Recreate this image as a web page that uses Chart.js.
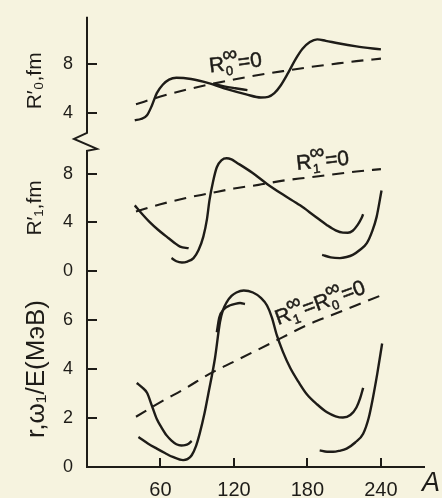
<!DOCTYPE html>
<html><head><meta charset="utf-8">
<script src="https://cdn.jsdelivr.net/npm/chart.js@4/dist/chart.umd.min.js"></script>
<style>html,body{margin:0;padding:0;background:#f6f3df;}canvas{display:block;}</style>
</head><body>
<canvas id="c" width="442" height="498"></canvas>
<script>
// ---------- data ----------
const X_TICKS = [60, 120, 180, 240];
const TOP_TICKS = [4, 8];
const MID_TICKS = [0, 4, 8];
const BOT_TICKS = [0, 2, 4, 6];

// top panel R'0
const TOP_A  = [39, 44, 49, 53, 57, 62, 67, 73, 85, 100, 115, 130, 142, 148, 153, 158, 164, 170, 176, 182, 188, 195, 205, 220, 240];
const TOP_R0 = [3.4, 3.5, 3.8, 4.6, 5.6, 6.3, 6.7, 6.85, 6.75, 6.4, 5.9, 5.5, 5.25, 5.3, 5.6, 6.2, 7.2, 8.3, 9.2, 9.75, 9.97, 9.85, 9.65, 9.4, 9.15];
const TOP2_A  = [103, 112, 121, 131];
const TOP2_R0 = [6.35, 6.15, 6.0, 5.85];
const DASH_A = [40, 60, 80, 100, 120, 140, 160, 180, 200, 220, 240];
const TOP_DASH = [4.7, 5.32, 5.85, 6.31, 6.71, 7.07, 7.39, 7.69, 7.95, 8.2, 8.4];

// middle panel R'1
const MID1_A = [39, 45, 51, 58, 65, 71, 76, 83];
const MID1_R = [5.41, 4.7, 4.05, 3.4, 2.83, 2.35, 2.0, 1.88];
const MID2_A = [69, 73, 77.5, 82, 87, 91, 95, 98, 100, 103, 106, 110, 114, 118, 122, 135, 147, 160, 174, 185, 196, 203, 209, 213, 217, 221, 224, 225.5];
const MID2_R = [1.06, 0.8, 0.7, 0.78, 1.06, 1.7, 2.83, 4.3, 5.82, 7.4, 8.55, 9.15, 9.3, 9.2, 8.95, 8.1, 7.18, 6.3, 5.41, 4.6, 3.78, 3.35, 3.16, 3.15, 3.32, 3.8, 4.33, 4.68];
const MID3_A = [192, 199, 206.5, 212, 217, 223, 228.5, 233, 236.5, 240.5];
const MID3_R = [1.33, 1.12, 1.06, 1.15, 1.33, 1.75, 2.29, 3.3, 4.46, 6.64];
const MID_DASH = [4.9, 5.5, 6.0, 6.4, 6.8, 7.1, 7.45, 7.7, 7.95, 8.2, 8.4];

// bottom panel r,w1/E
const BOTA_A = [40.6, 45, 49, 53, 57, 61, 65, 69, 73, 77, 80, 83, 85.5];
const BOTA_V = [3.43, 3.25, 3.03, 2.5, 1.96, 1.6, 1.29, 1.08, 0.93, 0.88, 0.89, 0.95, 1.06];
const BOTB_A = [42, 50, 57, 64, 70, 78.5, 82, 85.5, 89, 92, 96, 99, 104.5, 108.6, 111, 114, 118, 122, 128, 135.5, 142, 147, 151, 155, 160, 166, 173, 179.5, 188, 196, 203, 209, 215, 220, 223, 225.5];
const BOTB_V = [1.22, 0.95, 0.75, 0.56, 0.41, 0.28, 0.32, 0.48, 0.85, 1.36, 2.2, 2.97, 4.44, 5.92, 6.4, 6.72, 6.98, 7.12, 7.2, 7.12, 6.9, 6.59, 6.1, 5.38, 4.7, 4.04, 3.45, 2.97, 2.55, 2.23, 2.07, 2.02, 2.12, 2.43, 2.8, 3.23];
const BOTC_A = [106, 108, 112, 117, 121, 125, 129];
const BOTC_V = [5.5, 6.1, 6.45, 6.6, 6.66, 6.69, 6.65];
const BOTD_A = [190, 196, 201, 206, 212, 219, 225.5, 230, 233.5, 237, 241];
const BOTD_V = [0.68, 0.62, 0.62, 0.66, 0.75, 1.0, 1.36, 2.0, 2.83, 3.8, 5.04];
const BOT_DASH = [2.05, 2.65, 3.2, 3.8, 4.3, 4.8, 5.3, 5.8, 6.2, 6.6, 7.0];

// ---------- style ----------
const INK = '#1e1c18';
const BG = '#f6f3df';
const FAM = "'Liberation Sans', Arial, sans-serif";

const pts = (xs, ys) => xs.map((x, i) => ({x, y: ys[i]}));
function solid(xs, ys, axis) {
  return {data: pts(xs, ys), yAxisID: axis, borderColor: INK, borderWidth: 2.4, pointRadius: 0,
          tension: 0.4, cubicInterpolationMode: 'monotone', fill: false};
}
function dashed(xs, ys, axis) {
  return {data: pts(xs, ys), yAxisID: axis, borderColor: INK, borderWidth: 2.1, pointRadius: 0,
          borderDash: [12, 8], tension: 0.4, cubicInterpolationMode: 'monotone', fill: false};
}
const setTicks = arr => s => { s.ticks = arr.map(v => ({value: v})); };

function yScale(weight, min, max, ticks, title, tsize, tpad) {
  return {
    type: 'linear', position: 'left', stack: 'y', stackWeight: weight, min, max,
    afterBuildTicks: setTicks(ticks),
    grid: {display: false}, border: {display: false},
    ticks: {autoSkip: false, padding: 6, color: INK, font: {family: FAM, size: 18}},
    title: {display: true, text: title, color: INK, font: {family: FAM, size: tsize}, padding: {top: tpad, bottom: 0}},
    afterFit: s => { s.width = 87; }
  };
}

function drawLabel(ctx, x, y, angle, parts) {
  ctx.save();
  ctx.translate(x, y);
  ctx.rotate(angle);
  ctx.fillStyle = INK;
  ctx.strokeStyle = INK;
  ctx.lineWidth = 0.5;
  ctx.textBaseline = 'alphabetic';
  ctx.textAlign = 'left';
  const put = (t, px, py) => { ctx.fillText(t, px, py); ctx.strokeText(t, px, py); };
  let cx = 0;
  for (const p of parts) {
    if (p.t) {
      ctx.font = `21px ${FAM}`;
      put(p.t, cx, 0);
      cx += ctx.measureText(p.t).width + 1;
    } else {
      ctx.font = `13px ${FAM}`;
      put(p.sub, cx, 5);
      const w1 = ctx.measureText(p.sub).width;
      ctx.font = `21px ${FAM}`;
      put('∞', cx - 2, -9);
      const w2 = ctx.measureText('∞').width;
      cx += Math.max(w1, w2) - 2;
    }
  }
  ctx.restore();
}

const decor = {
  id: 'decor',
  beforeDraw(chart) {
    const ctx = chart.ctx;
    ctx.save(); ctx.fillStyle = BG; ctx.fillRect(0, 0, chart.width, chart.height); ctx.restore();
  },
  afterDraw(chart) {
    const ctx = chart.ctx;
    const {left, right, top, bottom} = chart.chartArea;
    const sx = chart.scales.x, yt = chart.scales.yTop, ym = chart.scales.yMid, yb = chart.scales.yBot;
    ctx.save();
    ctx.strokeStyle = INK; ctx.lineWidth = 2; ctx.lineJoin = 'miter';
    const brk = yt.bottom;
    ctx.beginPath();
    ctx.moveTo(left, top);
    ctx.lineTo(left, brk - 12);
    ctx.lineTo(left - 13, brk - 6);
    ctx.lineTo(left + 10, brk + 4);
    ctx.lineTo(left, brk + 6);
    ctx.lineTo(left, bottom);
    ctx.lineTo(right, bottom);
    ctx.stroke();
    ctx.beginPath();
    for (const [sc, arr] of [[yt, TOP_TICKS], [ym, MID_TICKS], [yb, BOT_TICKS]]) {
      for (const v of arr) {
        const py = Math.round(sc.getPixelForValue(v));
        ctx.moveTo(left, py); ctx.lineTo(left + 10, py);
      }
    }
    for (const v of X_TICKS) {
      const px = Math.round(sx.getPixelForValue(v));
      ctx.moveTo(px, bottom); ctx.lineTo(px, bottom - 9);
    }
    ctx.stroke();
    ctx.fillStyle = INK;
    ctx.font = `italic 27px ${FAM}`;
    ctx.textBaseline = 'middle'; ctx.textAlign = 'left';
    ctx.fillText('A', right - 3, bottom + 16);
    ctx.restore();

    drawLabel(ctx, sx.getPixelForValue(100.4), yt.getPixelForValue(7.28), -7 * Math.PI / 180,
      [{t: 'R'}, {sub: '0'}, {t: '=0'}]);
    drawLabel(ctx, sx.getPixelForValue(171.4), ym.getPixelForValue(8.33), -6 * Math.PI / 180,
      [{t: 'R'}, {sub: '1'}, {t: '=0'}]);
    drawLabel(ctx, sx.getPixelForValue(156), yb.getPixelForValue(5.79), -20 * Math.PI / 180,
      [{t: 'R'}, {sub: '1'}, {t: '=R'}, {sub: '0'}, {t: '=0'}]);
  }
};

new Chart(document.getElementById('c'), {
  type: 'line',
  data: {datasets: [
    solid(TOP_A, TOP_R0, 'yTop'),
    solid(TOP2_A, TOP2_R0, 'yTop'),
    dashed(DASH_A, TOP_DASH, 'yTop'),
    solid(MID1_A, MID1_R, 'yMid'),
    solid(MID2_A, MID2_R, 'yMid'),
    solid(MID3_A, MID3_R, 'yMid'),
    dashed(DASH_A, MID_DASH, 'yMid'),
    solid(BOTA_A, BOTA_V, 'yBot'),
    solid(BOTB_A, BOTB_V, 'yBot'),
    solid(BOTC_A, BOTC_V, 'yBot'),
    solid(BOTD_A, BOTD_V, 'yBot'),
    dashed(DASH_A, BOT_DASH, 'yBot')
  ]},
  options: {
    responsive: false, animation: false, devicePixelRatio: 1,
    layout: {padding: {left: 0, top: 10, right: 17, bottom: 0}},
    plugins: {legend: {display: false}, tooltip: {enabled: false}},
    scales: {
      x: {type: 'linear', min: 0, max: 276,
          afterBuildTicks: setTicks(X_TICKS),
          grid: {display: false}, border: {display: false},
          ticks: {autoSkip: false, maxRotation: 0, padding: 3, color: INK, font: {family: FAM, size: 20}},
          afterFit: s => { s.height = 31; }},
      yBot: yScale(199, 0, 8, BOT_TICKS, 'r,ω₁/E(МэВ)', 26, 21),
      yMid: yScale(128, 0, 10.4, MID_TICKS, 'R′₁,fm', 21, 23),
      yTop: yScale(130, 1.4, 11.8, TOP_TICKS, 'R′₀,fm', 21, 23)
    }
  },
  plugins: [decor]
});
</script>
</body></html>
